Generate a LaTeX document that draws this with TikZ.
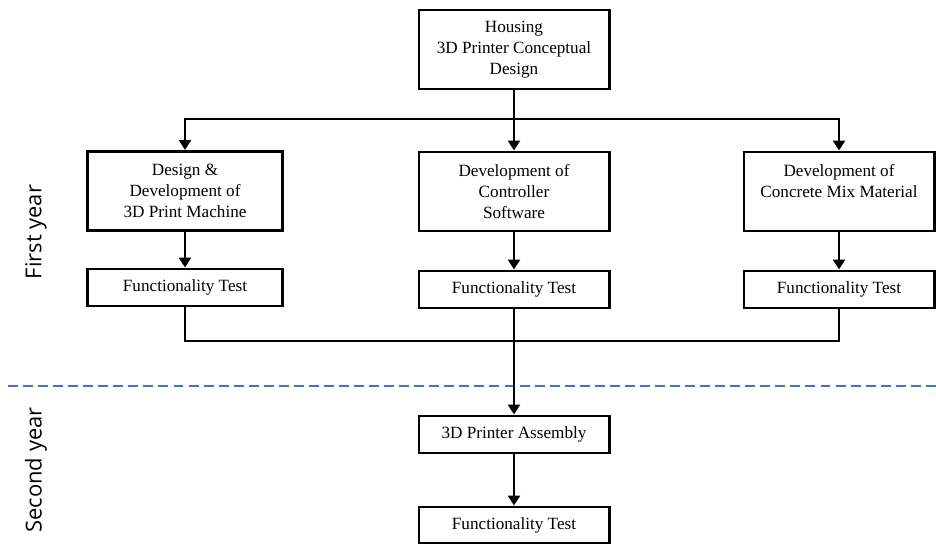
\documentclass[tikz,border=0pt]{standalone}
\usepackage{fontspec}
\setmainfont{Liberation Serif}
\newfontfamily\labelfont{Open Sans}
\usetikzlibrary{arrows.meta}
\definecolor{blue3}{HTML}{4472C4}

\tikzset{
  box/.style={draw=black, line width=2.1pt, minimum width=4.75cm, minimum height=1.975cm,
    align=center, inner sep=0pt, font=\fontsize{12.2}{15}\selectfont},
  testbox/.style={box, minimum height=0.925cm},
  arr/.style={line width=1.9pt, -{Triangle[length=0.25cm, width=0.3cm]}},
  link/.style={line width=1.9pt},
  yearlabel/.style={rotate=90, font=\labelfont\fontsize{15.6}{18}\selectfont},
  dashline/.style={blue3, line width=1.4pt, dash pattern=on 7.1pt off 3.6pt}
}

\begin{document}
\begin{tikzpicture}[x=0.025cm, y=-0.025cm]
  \useasboundingbox (0,0) rectangle (936,544);

  % year labels and the split between them
  \node[yearlabel] (first) at (36,232) {First year};
  \node[yearlabel] (second) at (36,470) {Second year};
  \draw[dashline] (8,386) -- (936,386);

  % first year
  \node[box] (house) at (514,49.5) {Housing\\3D Printer Conceptual\\Design};

  \node[box, minimum width=4.875cm] (design) at (185,191) {Design \&\\Development of\\3D Print Machine};
  \node[box] (ctrl) at (514,191.5) {Development of\\Controller\\Software};
  \node[box] (concrete) at (839,191.5) {Development of\\Concrete Mix Material\\\mbox{}};

  \node[testbox, minimum width=4.875cm] (test1) at (185,287.5) {Functionality Test};
  \node[testbox] (test2) at (514,289.5) {Functionality Test};
  \node[testbox] (test3) at (839,289.5) {Functionality Test};

  \coordinate (split) at (514,119);
  \coordinate (join) at (514,341);

  \draw[arr] (house.south) -- (ctrl.north);
  \draw[arr] (split) -| (design.north);
  \draw[arr] (split) -| (concrete.north);

  \draw[arr] (design) -- (test1);
  \draw[arr] (ctrl) -- (test2);
  \draw[arr] (concrete) -- (test3);

  \draw[link] (test1.south) |- (join);
  \draw[link] (test3.south) |- (join);

  % second year
  \node[testbox] (assembly) at (514,434.5) {3D Printer Assembly};
  \node[testbox, minimum height=0.9cm] (test4) at (514,525) {Functionality Test};

  \draw[arr] (test2) -- (assembly);
  \draw[arr] (assembly) -- (test4);
\end{tikzpicture}
\end{document}
